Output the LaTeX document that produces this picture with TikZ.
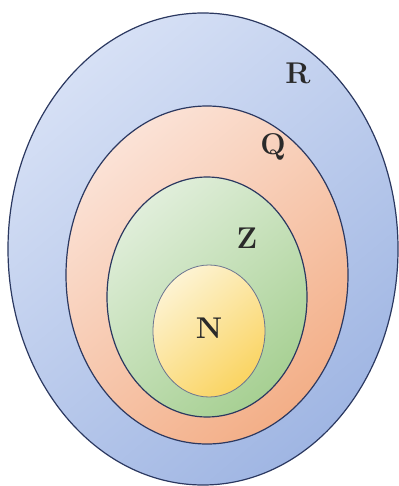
\documentclass[tikz,border=0pt]{standalone}
\usetikzlibrary{shapes.geometric}
\definecolor{rimblue}{HTML}{2B3860}
\definecolor{labelgray}{HTML}{2A2A2A}
\definecolor{realA}{HTML}{D6E0F5}
\definecolor{realB}{HTML}{A0B6E3}
\definecolor{ratA}{HTML}{FBE2D6}
\definecolor{ratB}{HTML}{F3AF88}
\definecolor{intA}{HTML}{E0EEDA}
\definecolor{intB}{HTML}{A7D093}
\definecolor{natA}{HTML}{FDF3D2}
\definecolor{natB}{HTML}{FAD462}
\tikzset{
 setbox/.style={draw=rimblue,ellipse,line width=1.2pt,inner sep=0pt},
 setname/.style={font=\fontsize{30}{32}\selectfont\bfseries,text=labelgray,inner sep=0pt}
}

\begin{document}
\begin{tikzpicture}[x=1pt,y=-1pt]
\useasboundingbox[fill=white] (0,0) rectangle (398,486);
% nested number sets
\node[setbox,minimum width=390pt,minimum height=472pt,
      left color=realA,right color=realB,shading angle=40] (real) at (203,249) {};
\node[setbox,minimum width=282pt,minimum height=338pt,
      left color=ratA,right color=ratB,shading angle=40] (rat) at (207,275) {};
\node[setbox,minimum width=200pt,minimum height=240pt,
      left color=intA,right color=intB,shading angle=40] (int) at (207,297) {};
\node[setbox,line width=0.8pt,draw=rimblue!70,minimum width=112pt,minimum height=132pt,
      left color=natA,right color=natB,shading angle=40] (nat) at (209,331) {};
% labels
\node[setname] (lblR) at (298,73) {R};
\node[setname] (lblQ) at (273,147) {Q};
\node[setname] (lblZ) at (247,238) {Z};
\node[setname] (lblN) at (209,328) {N};
\end{tikzpicture}
\end{document}
